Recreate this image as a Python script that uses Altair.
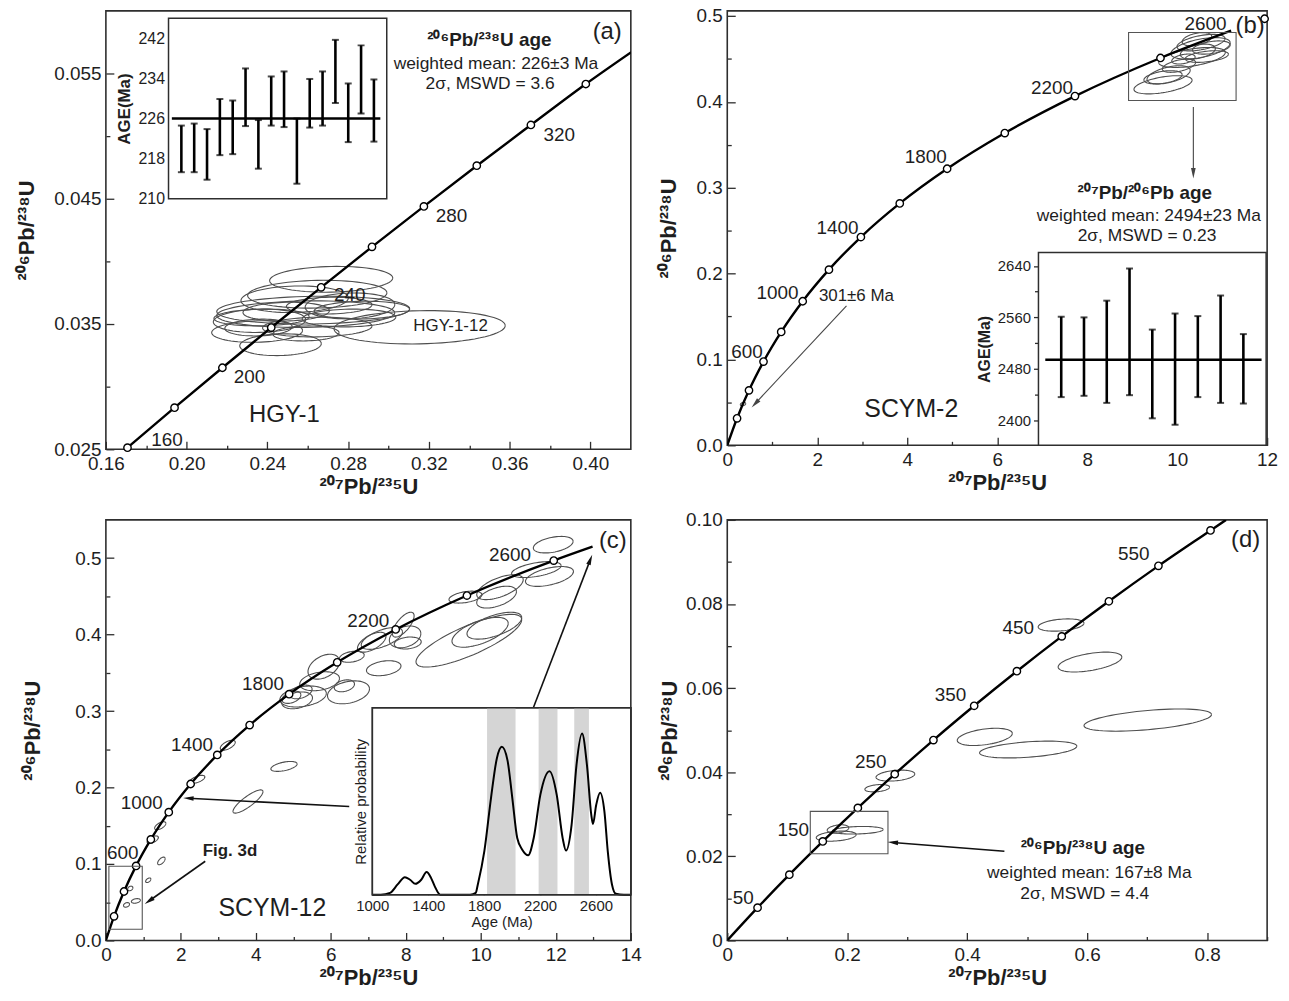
import math
import altair as alt
import pandas as pd

FONT = "Liberation Sans"
INK = "#1e1e1e"
ELL = "#4e4e4e"
FRAME = "#2e2e2e"

# ======================= DATA =======================
# ---- panel (a) HGY-1 ----
A_XDOM = [0.16, 0.42]
A_YDOM = [0.025, 0.060]
a_mx = [0.1707, 0.1940, 0.2177, 0.2419, 0.2666, 0.2918, 0.3175, 0.3437, 0.3705, 0.3977]
a_my = [0.02513, 0.02832, 0.03151, 0.03472, 0.03793, 0.04116, 0.04439, 0.04764, 0.05089, 0.05416]
a_curve_x = a_mx + [0.4202]
a_curve_y = a_my + [0.0567]
a_lab = ["160", "200", "240", "280", "320"]
a_lab_x = [0.1903, 0.2311, 0.2808, 0.3312, 0.3846]
a_lab_y = [0.02574, 0.03077, 0.03730, 0.04360, 0.05010]
a_ex = [0.2716, 0.2647, 0.2627, 0.3154, 0.2465, 0.2349, 0.2590, 0.2535, 0.2706,
        0.2868, 0.2804, 0.2493, 0.2371, 0.2647, 0.2356, 0.2591, 0.2361, 0.2809]
a_ey = [0.03857, 0.03738, 0.03611, 0.03474, 0.03335, 0.03440, 0.03579, 0.03698, 0.03647,
        0.03611, 0.03548, 0.03599, 0.03552, 0.03476, 0.03472, 0.03425, 0.03526, 0.03645]
a_esx = [0.0305, 0.0345, 0.0478, 0.0424, 0.0202, 0.0225, 0.0441, 0.0266, 0.0212,
         0.0236, 0.0232, 0.0214, 0.0236, 0.0271, 0.0167, 0.0164, 0.0229, 0.0222]
a_esy = [0.00103, 0.00111, 0.00111, 0.00133, 0.00087, 0.00086, 0.00106, 0.00106, 0.00067,
         0.00071, 0.00071, 0.00075, 0.00067, 0.00079, 0.00067, 0.00060, 0.00093, 0.00103]
a_erho = [0.1] * 18
# inset (a): 206Pb/238U spot ages
A_IN_X = [0, 17]
A_IN_Y = [210, 246]
a_spot = list(range(1, 17))
a_hi = [224.6, 225.0, 223.9, 229.9, 229.6, 236.0, 225.7, 234.4, 235.4, 226.0, 233.9, 235.4, 241.7, 233.0, 240.6, 233.8]
a_lo = [215.3, 215.3, 213.8, 218.7, 218.9, 224.5, 216.0, 224.6, 224.3, 213.0, 224.2, 224.6, 229.1, 221.3, 227.0, 221.4]
a_mean = 226
a_mean_span = [0.26, 16.5]
a_txt = ["(a)", "²⁰⁶Pb/²³⁸U age", "weighted mean: 226±3 Ma", "2σ, MSWD = 3.6", "HGY-1", "HGY-1-12"]
a_txt_x = [0.4083, 0.3499, 0.3532, 0.3503, 0.2484, 0.3307]
a_txt_y = [0.05828, 0.05767, 0.05577, 0.05418, 0.02772, 0.03487]

# ---- panel (b) SCYM-2 ----
B_XDOM = [0, 12]
B_YDOM = [0, 0.506]
b_mx = [0.2177, 0.4828, 0.8056, 1.199, 1.677, 2.260, 2.970, 3.834, 4.887, 6.169, 7.729, 9.629, 11.944]
b_my = [0.0315, 0.0640, 0.0975, 0.1321, 0.1678, 0.2046, 0.2426, 0.2817, 0.3221, 0.3637, 0.4067, 0.4511, 0.4968]
b_curve_x = [0] + b_mx[:12] + [11.20]
b_curve_y = [0] + b_my[:12] + [0.4829]
b_lab = ["600", "1000", "1400", "1800", "2200", "2600"]
b_lab_x = [0.44, 1.116, 2.45, 4.41, 7.22, 10.63]
b_lab_y = [0.1084, 0.1779, 0.2531, 0.336, 0.416, 0.491]
b_ex = [9.686, 9.81, 10.04, 10.33, 10.52, 10.53, 10.46, 10.66, 10.76, 10.14, 10.44, 9.686, 0.35]
b_ey = [0.4199, 0.4315, 0.4421, 0.4517, 0.4624, 0.469, 0.4586, 0.4528, 0.4633, 0.4499, 0.4730, 0.4286, 0.048]
b_esx = [0.646, 0.48, 0.37, 0.74, 0.66, 0.535, 0.39, 0.48, 0.42, 0.26, 0.33, 0.425, 0.06]
b_esy = [0.0106, 0.0106, 0.0077, 0.0116, 0.0125, 0.0096, 0.0087, 0.0068, 0.0077, 0.0058, 0.0077, 0.0077, 0.002]
b_erho = [0.5, 0.5, 0.5, 0.5, 0.5, 0.5, 0.4, 0.4, 0.4, 0.4, 0.4, 0.4, 0.3]
b_box = [8.92, 11.31, 0.4016, 0.4807]
b_arrow_from = [(2.65, 0.1624), (10.36, 0.394)]
b_arrow_to = [(0.62, 0.0486), (10.36, 0.3168)]
b_arrow_ang = [223, 180]
b_txt = ["(b)", "SCYM-2", "301±6 Ma", "²⁰⁷Pb/²⁰⁶Pb age", "weighted mean: 2494±23 Ma", "2σ, MSWD = 0.23"]
b_txt_x = [11.62, 4.09, 2.87, 9.28, 9.37, 9.33]
b_txt_y = [0.488, 0.0428, 0.1733, 0.2936, 0.2666, 0.2434]
# inset (b): 207Pb/206Pb spot ages
B_IN_X = [0, 10]
B_IN_Y = [2361, 2661]
b_spot = list(range(1, 10))
b_hi = [2561, 2560, 2586, 2636, 2541, 2566, 2562, 2594, 2534]
b_lo = [2436, 2438, 2427, 2439, 2403, 2393, 2436, 2427, 2426]
b_mean = 2494
b_mean_span = [0.3, 9.8]

# ---- panel (c) SCYM-12 ----
C_XDOM = [0, 14]
C_YDOM = [0, 0.55]
c_mx = b_mx
c_my = b_my
c_curve_x = [0] + c_mx + [12.98]
c_curve_y = [0] + c_my + [0.515]
c_lab = ["600", "1000", "1400", "1800", "2200", "2600"]
c_lab_x = [0.45, 0.955, 2.30, 4.19, 7.00, 10.78]
c_lab_y = [0.1144, 0.1795, 0.2553, 0.3355, 0.4178, 0.5045]
c_ex = [11.93, 11.48, 11.83, 10.51, 10.42, 9.59, 9.68, 9.98, 10.36, 7.93, 7.98, 8.05, 7.09, 6.56, 7.41,
        5.81, 5.70, 6.47, 5.26, 5.10, 6.36, 4.75, 3.79, 3.25, 2.44, 1.45, 1.25, 1.48, 1.13, 0.80, 0.55,
        0.65, 7.36, 4.95, 5.20]
c_ey = [0.5176, 0.485, 0.476, 0.462, 0.449, 0.449, 0.392, 0.403, 0.4116, 0.413, 0.397, 0.389, 0.390,
        0.371, 0.356, 0.358, 0.339, 0.3245, 0.319, 0.314, 0.333, 0.2276, 0.1817, 0.2553, 0.2107, 0.150,
        0.1317, 0.104, 0.0787, 0.0517, 0.0465, 0.068, 0.395, 0.318, 0.325]
c_esx = [0.53, 0.66, 0.64, 0.62, 0.53, 0.44, 1.41, 0.75, 0.73, 0.29, 0.42, 0.36, 0.38, 0.33, 0.46,
         0.42, 0.53, 0.56, 0.62, 0.41, 0.27, 0.35, 0.40, 0.20, 0.20, 0.15, 0.15, 0.10, 0.07, 0.12, 0.08,
         0.07, 0.55, 0.25, 0.30]
c_esy = [0.0108, 0.0104, 0.013, 0.0163, 0.0143, 0.0078, 0.0345, 0.0195, 0.0176, 0.0163, 0.0143, 0.0078,
         0.013, 0.0072, 0.0098, 0.0163, 0.0124, 0.015, 0.0137, 0.011, 0.0078, 0.0065, 0.0152, 0.0065,
         0.0052, 0.0052, 0.005, 0.005, 0.003, 0.003, 0.003, 0.003, 0.0143, 0.008, 0.009]
c_erho = [0.4, 0.5, 0.5, 0.6, 0.5, 0.4, 0.8, 0.6, 0.6, 0.7, 0.3, 0.2, 0.6, 0.3, 0.3, 0.4, 0.3, 0.3,
          0.3, 0.3, 0.3, 0.5, 0.85, 0.6, 0.6, 0.6, 0.6, 0.6, 0.5, 0.3, 0.3, 0.3, 0.6, 0.4, 0.4]
c_box = [0.08, 0.97, 0.0147, 0.0971]
c_arrow_from = [(2.65, 0.1036), (6.49, 0.1751), (11.40, 0.3043)]
c_arrow_to = [(1.15, 0.0516), (2.20, 0.186), (12.92, 0.498)]
c_arrow_ang = [235, 273, 21]
c_txt = ["(c)", "SCYM-12"]
c_txt_x = [13.52, 4.44]
c_txt_y = [0.5218, 0.0429]
c_fig_txt = ["Fig. 3d"]
c_fig_x = [3.31]
c_fig_y = [0.1166]
# inset (c): age probability
C_IN_X = [1000, 2850]
C_IN_Y = [0, 1]
kde_age = [1000, 1060, 1127, 1181, 1233, 1270, 1308, 1350, 1388, 1420, 1446, 1486, 1550, 1700, 1740,
           1755, 1802, 1849, 1891, 1927, 1967, 2002, 2037, 2073, 2115, 2155, 2202, 2268, 2320, 2362,
           2386, 2426, 2461, 2501, 2536, 2567, 2579, 2602, 2630, 2661, 2685, 2715, 2743, 2800, 2850]
kde_p = [0, 0, 0.01, 0.055, 0.094, 0.08, 0.058, 0.08, 0.121, 0.09, 0.046, 0.0, 0, 0, 0.01,
         0.055, 0.234, 0.516, 0.729, 0.791, 0.72, 0.516, 0.303, 0.241, 0.211, 0.303, 0.533, 0.661, 0.533,
         0.303, 0.236, 0.374, 0.693, 0.862, 0.693, 0.427, 0.378, 0.48, 0.546, 0.445, 0.232, 0.055, 0.005,
         0, 0]
band_from = [1821, 2190, 2445]
band_to = [2025, 2325, 2550]

# ---- panel (d) ----
D_XDOM = [0, 0.9]
D_YDOM = [0, 0.10]
d_mx = [0.0505, 0.1035, 0.1592, 0.2177, 0.2792, 0.3437, 0.4116, 0.4828, 0.5576, 0.6362, 0.7188, 0.8056]
d_my = [0.00779, 0.01563, 0.02354, 0.03151, 0.03954, 0.04764, 0.05580, 0.06402, 0.07230, 0.08065,
        0.08907, 0.09750]
d_curve_x = [0] + d_mx + [0.8314]
d_curve_y = [0] + d_my + [0.1]
d_lab = ["50", "150", "250", "350", "450", "550"]
d_lab_x = [0.0268, 0.110, 0.2394, 0.372, 0.485, 0.6777]
d_lab_y = [0.0102, 0.0263, 0.0424, 0.0583, 0.0743, 0.0918]
d_ex = [0.5565, 0.6047, 0.701, 0.4293, 0.5017, 0.2803, 0.25, 0.1846, 0.2175, 0.1816]
d_ey = [0.0750, 0.0662, 0.0524, 0.0484, 0.0454, 0.0392, 0.0362, 0.0265, 0.0262, 0.0248]
d_esx = [0.0382, 0.0531, 0.1063, 0.0459, 0.0811, 0.0323, 0.0206, 0.018, 0.0425, 0.0333]
d_esy = [0.00146, 0.00236, 0.00264, 0.00205, 0.0020, 0.0013, 0.00087, 0.001, 0.0009, 0.0012]
d_erho = [0.3, 0.5, 0.5, 0.4, 0.4, 0.3, 0.3, 0.3, 0.2, 0.3]
d_box = [0.1384, 0.2679, 0.0206, 0.0307]
d_arrow_from = [(0.462, 0.0212)]
d_arrow_to = [(0.276, 0.0233)]
d_arrow_ang = [274]
d_txt = ["(d)", "²⁰⁶Pb/²³⁸U age", "weighted mean: 167±8 Ma", "2σ, MSWD = 4.4"]
d_txt_x = [0.864, 0.5927, 0.6037, 0.596]
d_txt_y = [0.0951, 0.0220, 0.0161, 0.0110]

# ======================= LAYOUT =======================
W1, W2 = 528, 543
H_A, H_B, H_C, H_D = 441, 437, 423, 423
A_IN_XR, A_IN_YR = [63, 282.5], [189, 7.5]
B_IN_XR, B_IN_YR = [313, 542], [437, 243]
C_IN_XR, C_IN_YR = [268, 528], [377, 189]


# ======================= HELPERS =======================
def scale(dom, rng=None):
    if rng is None:
        return alt.Scale(domain=list(dom), nice=False, zero=False)
    return alt.Scale(domain=list(dom), nice=False, zero=False, range=list(rng))


def chart(df, xdom, ydom, xaxis=None, yaxis=None, xr=None, yr=None, xf="x", yf="y"):
    return alt.Chart(df).encode(
        x=alt.X(xf, type="quantitative", scale=scale(xdom, xr), axis=xaxis),
        y=alt.Y(yf, type="quantitative", scale=scale(ydom, yr), axis=yaxis),
    )


def ellipse_frame(cx, cy, sx, sy, rho, n=72):
    rows = []
    for k in range(len(cx)):
        r = rho[k]
        q = math.sqrt(1 - r * r)
        for j in range(n + 1):
            t = 2 * math.pi * j / n
            rows.append({"id": k, "o": j,
                         "x": cx[k] + sx[k] * math.cos(t),
                         "y": cy[k] + sy[k] * (r * math.cos(t) + q * math.sin(t))})
    return pd.DataFrame(rows)


def label_axis(orient, values, expr, title, tpad, size=19, tsize=22, lpad=5):
    return alt.Axis(orient=orient, values=values, labelExpr=expr, ticks=False, tickSize=0,
                    domain=False, grid=False, labelFont=FONT, labelFontSize=size, labelColor=INK,
                    labelPadding=lpad, labelFlush=False, labelOverlap=False,
                    title=title, titleFont=FONT, titleFontSize=tsize, titleFontWeight="bold",
                    titleColor=INK, titlePadding=tpad)


def tick_axis(orient, values, size, offset):
    return alt.Axis(orient=orient, values=values, labels=False, domain=False, grid=False,
                    ticks=True, tickSize=size, tickColor=FRAME, tickWidth=1.3, offset=offset, title=None)


def text_layer(texts, xs, ys, xdom, ydom, size, bold=False, xr=None, yr=None):
    df = pd.DataFrame({"t": texts, "x": xs, "y": ys})
    return chart(df, xdom, ydom, xr=xr, yr=yr).mark_text(
        font=FONT, fontSize=size, fontWeight="bold" if bold else "normal", color=INK,
        align="center", baseline="middle").encode(text="t:N")


def main_layers(xdom, ydom, curve_x, curve_y, mk_x, mk_y, ell, lab, lab_x, lab_y,
                xmaj, xmin, ymaj, ymin, xexpr, yexpr, ytpad):
    xl = label_axis("bottom", xmaj, xexpr, "²⁰⁷Pb/²³⁵U", 3)
    yl = label_axis("left", ymaj, yexpr, "²⁰⁶Pb/²³⁸U", ytpad)
    ellipses = chart(ell, xdom, ydom, tick_axis("bottom", xmaj, 8, -8), tick_axis("left", ymaj, 8, -8)).mark_line(
        color=ELL, strokeWidth=1.1, clip=True).encode(detail="id:N", order="o:Q")
    curve = chart(pd.DataFrame({"x": curve_x, "y": curve_y}), xdom, ydom, xl, yl).mark_line(
        color="black", strokeWidth=2.4, clip=True, interpolate="monotone")
    markers = chart(pd.DataFrame({"x": mk_x, "y": mk_y}), xdom, ydom,
                    tick_axis("bottom", xmin, 4, -4), tick_axis("left", ymin, 4, -4)).mark_point(
        shape="circle", filled=True, fill="white", stroke="black", strokeWidth=1.4, size=55, opacity=1)
    labels = text_layer(lab, lab_x, lab_y, xdom, ydom, 19)
    return [ellipses, curve, markers, labels]


def box_layer(b, xdom, ydom, color="#555555"):
    df = pd.DataFrame({"x": [b[0]], "x2": [b[1]], "y": [b[2]], "y2": [b[3]]})
    return chart(df, xdom, ydom).mark_rect(fill="white", fillOpacity=0, stroke=color, strokeWidth=1.1).encode(
        x2="x2:Q", y2="y2:Q")


def arrow_layers(starts, ends, angles, xdom, ydom, color, width):
    rows = []
    for k, (s, e) in enumerate(zip(starts, ends)):
        rows.append({"id": k, "o": 0, "x": s[0], "y": s[1]})
        rows.append({"id": k, "o": 1, "x": e[0], "y": e[1]})
    seg = chart(pd.DataFrame(rows), xdom, ydom).mark_line(color=color, strokeWidth=width).encode(
        detail="id:N", order="o:Q")
    heads = pd.DataFrame({"x": [e[0] for e in ends], "y": [e[1] for e in ends], "ang": angles})
    head = chart(heads, xdom, ydom).mark_point(
        shape="M0,-1L0.45,1L-0.45,1Z", filled=True, color=color, size=110, opacity=1).encode(
        angle=alt.Angle("ang:Q", scale=None))
    return [seg, head]


def inset_frame(xdom, ydom, xr, yr, yaxis=None, xaxis=None, fill_op=1):
    df = pd.DataFrame({"x": [xdom[0]], "x2": [xdom[1]], "y": [ydom[0]], "y2": [ydom[1]]})
    return chart(df, xdom, ydom, xaxis, yaxis, xr, yr).mark_rect(
        fill="white", fillOpacity=fill_op, stroke=FRAME, strokeWidth=1.5).encode(x2="x2:Q", y2="y2:Q")


def errbar_layers(idx, lo, hi, mean, span, xdom, ydom, xr, yr, yaxis):
    bars = chart(pd.DataFrame({"x": idx, "lo": lo, "hi": hi}), xdom, ydom, None, yaxis, xr, yr, yf="lo").mark_rule(
        color="black", strokeWidth=2.6).encode(y2="hi:Q")
    caps = chart(pd.DataFrame({"x": idx + idx, "v": lo + hi}), xdom, ydom, xr=xr, yr=yr, yf="v").mark_tick(
        orient="horizontal", color="black", size=7, thickness=2)
    mline = chart(pd.DataFrame({"x": [span[0]], "x2": [span[1]], "y": [mean]}), xdom, ydom, xr=xr, yr=yr).mark_rule(
        color="black", strokeWidth=2.6).encode(x2="x2:Q")
    return [bars, caps, mline]


# ======================= PANEL (a) =======================
la = main_layers(A_XDOM, A_YDOM, a_curve_x, a_curve_y, a_mx, a_my,
                 ellipse_frame(a_ex, a_ey, a_esx, a_esy, a_erho), a_lab, a_lab_x, a_lab_y,
                 [0.16, 0.20, 0.24, 0.28, 0.32, 0.36, 0.40], [0.18, 0.22, 0.26, 0.30, 0.34, 0.38],
                 [0.025, 0.035, 0.045, 0.055], [0.030, 0.040, 0.050],
                 "format(datum.value, '.2f')", "format(datum.value, '.3f')", 15)
la.append(text_layer(a_txt[:1], a_txt_x[:1], a_txt_y[:1], A_XDOM, A_YDOM, 24))
la.append(text_layer(a_txt[1:2], a_txt_x[1:2], a_txt_y[1:2], A_XDOM, A_YDOM, 19, bold=True))
la.append(text_layer(a_txt[2:4], a_txt_x[2:4], a_txt_y[2:4], A_XDOM, A_YDOM, 17.5))
la.append(text_layer(a_txt[4:5], a_txt_x[4:5], a_txt_y[4:5], A_XDOM, A_YDOM, 24))
la.append(text_layer(a_txt[5:6], a_txt_x[5:6], a_txt_y[5:6], A_XDOM, A_YDOM, 17))
a_in_lab = alt.Axis(orient="left", offset=-A_IN_XR[0], values=[210, 218, 226, 234, 242], format="d",
                    ticks=False, tickSize=0,
                    domain=False, grid=False, labelFont=FONT, labelFontSize=16, labelColor=INK, labelPadding=4,
                    title="AGE(Ma)", titleFont=FONT, titleFontSize=17, titleFontWeight="bold", titleColor=INK,
                    titlePadding=5)
a_in_tick = tick_axis("left", [214, 218, 222, 226, 230, 234, 238, 242], 5, -(A_IN_XR[0] + 5))
la.append(inset_frame(A_IN_X, A_IN_Y, A_IN_XR, A_IN_YR, yaxis=a_in_lab))
la += errbar_layers(a_spot, a_lo, a_hi, a_mean, a_mean_span, A_IN_X, A_IN_Y, A_IN_XR, A_IN_YR, a_in_tick)
pa = alt.layer(*la).resolve_scale(x="independent", y="independent").properties(width=W1, height=H_A)

# ======================= PANEL (b) =======================
lb = main_layers(B_XDOM, B_YDOM, b_curve_x, b_curve_y, b_mx, b_my,
                 ellipse_frame(b_ex, b_ey, b_esx, b_esy, b_erho), b_lab, b_lab_x, b_lab_y,
                 [0, 2, 4, 6, 8, 10, 12], [1, 3, 5, 7, 9, 11],
                 [0, 0.1, 0.2, 0.3, 0.4, 0.5], [0.05, 0.15, 0.25, 0.35, 0.45],
                 "format(datum.value, 'd')", "format(datum.value, '.1f')", 16)
lb.append(box_layer(b_box, B_XDOM, B_YDOM))
lb += arrow_layers(b_arrow_from, b_arrow_to, b_arrow_ang, B_XDOM, B_YDOM, "#444444", 1.1)
lb.append(text_layer(b_txt[:1], b_txt_x[:1], b_txt_y[:1], B_XDOM, B_YDOM, 24))
lb.append(text_layer(b_txt[1:2], b_txt_x[1:2], b_txt_y[1:2], B_XDOM, B_YDOM, 25))
lb.append(text_layer(b_txt[2:3], b_txt_x[2:3], b_txt_y[2:3], B_XDOM, B_YDOM, 17))
lb.append(text_layer(b_txt[3:4], b_txt_x[3:4], b_txt_y[3:4], B_XDOM, B_YDOM, 19, bold=True))
lb.append(text_layer(b_txt[4:6], b_txt_x[4:6], b_txt_y[4:6], B_XDOM, B_YDOM, 17.5))
b_in_lab = alt.Axis(orient="left", offset=-B_IN_XR[0], values=[2400, 2480, 2560, 2640], format="d",
                    ticks=True, tickSize=5,
                    tickColor=FRAME, tickWidth=1.3, domain=False, grid=False, labelFont=FONT, labelFontSize=15,
                    labelColor=INK, labelPadding=3, title="AGE(Ma)", titleFont=FONT, titleFontSize=16,
                    titleFontWeight="bold", titleColor=INK, titlePadding=5)
b_in_tick = tick_axis("left", [2440, 2520, 2600], 4, -B_IN_XR[0])
lb.append(inset_frame(B_IN_X, B_IN_Y, B_IN_XR, B_IN_YR, yaxis=b_in_lab))
lb += errbar_layers(b_spot, b_lo, b_hi, b_mean, b_mean_span, B_IN_X, B_IN_Y, B_IN_XR, B_IN_YR, b_in_tick)
pb = alt.layer(*lb).resolve_scale(x="independent", y="independent").properties(width=W2, height=H_B)

# ======================= PANEL (c) =======================
lc = main_layers(C_XDOM, C_YDOM, c_curve_x, c_curve_y, c_mx, c_my,
                 ellipse_frame(c_ex, c_ey, c_esx, c_esy, c_erho), c_lab, c_lab_x, c_lab_y,
                 [0, 2, 4, 6, 8, 10, 12, 14], [1, 3, 5, 7, 9, 11, 13],
                 [0, 0.1, 0.2, 0.3, 0.4, 0.5], [0.05, 0.15, 0.25, 0.35, 0.45],
                 "format(datum.value, 'd')", "format(datum.value, '.1f')", 30)
lc.append(box_layer(c_box, C_XDOM, C_YDOM))
lc += arrow_layers(c_arrow_from, c_arrow_to, c_arrow_ang, C_XDOM, C_YDOM, "#111111", 1.6)
lc.append(text_layer(c_txt[:1], c_txt_x[:1], c_txt_y[:1], C_XDOM, C_YDOM, 24))
lc.append(text_layer(c_txt[1:2], c_txt_x[1:2], c_txt_y[1:2], C_XDOM, C_YDOM, 25))
lc.append(text_layer(c_fig_txt, c_fig_x, c_fig_y, C_XDOM, C_YDOM, 17, bold=True))
c_in_ylab = alt.Axis(orient="left", offset=-C_IN_XR[0], labels=False, ticks=False, domain=False, grid=False,
                     title="Relative probability", titleFont=FONT, titleFontSize=15, titleFontWeight="normal",
                     titleColor=INK, titlePadding=4)
c_in_xlab = alt.Axis(orient="bottom", offset=-(H_C - C_IN_YR[0]), values=[1000, 1400, 1800, 2200, 2600],
                     format="d", ticks=False, tickSize=0, domain=False, grid=False, labelFont=FONT,
                     labelFontSize=15, labelColor=INK, labelPadding=4, labelFlush=False, title="Age (Ma)",
                     titleFont=FONT, titleFontSize=15, titleFontWeight="normal", titleColor=INK, titlePadding=1)
c_in_xtick = tick_axis("bottom", [1000, 1400, 1800, 2200, 2600], 5, -(H_C - C_IN_YR[0]) - 5)
lc.append(inset_frame(C_IN_X, C_IN_Y, C_IN_XR, C_IN_YR, yaxis=c_in_ylab))
bands = pd.DataFrame({"x": band_from, "x2": band_to, "y": [C_IN_Y[0]] * 3, "y2": [C_IN_Y[1]] * 3})
lc.append(chart(bands, C_IN_X, C_IN_Y, c_in_xtick, None, C_IN_XR, C_IN_YR).mark_rect(color="#d5d5d5").encode(
    x2="x2:Q", y2="y2:Q"))
lc.append(chart(pd.DataFrame({"x": kde_age, "y": kde_p}), C_IN_X, C_IN_Y, c_in_xlab, None, C_IN_XR, C_IN_YR)
          .mark_line(color="black", strokeWidth=2, interpolate="monotone"))
lc.append(inset_frame(C_IN_X, C_IN_Y, C_IN_XR, C_IN_YR, fill_op=0))
pc = alt.layer(*lc).resolve_scale(x="independent", y="independent").properties(width=W1, height=H_C)

# ======================= PANEL (d) =======================
ld = main_layers(D_XDOM, D_YDOM, d_curve_x, d_curve_y, d_mx, d_my,
                 ellipse_frame(d_ex, d_ey, d_esx, d_esy, d_erho), d_lab, d_lab_x, d_lab_y,
                 [0, 0.2, 0.4, 0.6, 0.8], [0.1, 0.3, 0.5, 0.7, 0.9],
                 [0, 0.02, 0.04, 0.06, 0.08, 0.10], [0.01, 0.03, 0.05, 0.07, 0.09],
                 "datum.value == 0 ? '0' : format(datum.value, '.1f')",
                 "datum.value == 0 ? '0' : format(datum.value, '.2f')", 4)
ld.append(box_layer(d_box, D_XDOM, D_YDOM))
ld += arrow_layers(d_arrow_from, d_arrow_to, d_arrow_ang, D_XDOM, D_YDOM, "#111111", 1.6)
ld.append(text_layer(d_txt[:1], d_txt_x[:1], d_txt_y[:1], D_XDOM, D_YDOM, 24))
ld.append(text_layer(d_txt[1:2], d_txt_x[1:2], d_txt_y[1:2], D_XDOM, D_YDOM, 19, bold=True))
ld.append(text_layer(d_txt[2:4], d_txt_x[2:4], d_txt_y[2:4], D_XDOM, D_YDOM, 17.5))
pdd = alt.layer(*ld).resolve_scale(x="independent", y="independent").properties(width=W2, height=H_D)

# ======================= FIGURE =======================
fig = alt.concat(pa, pb, pc, pdd, columns=2, spacing={"row": 71, "column": 97}, bounds="flush").properties(
    padding={"left": 14.5, "top": 3, "right": 10, "bottom": 10},
    background="white",
).configure_view(stroke=FRAME, strokeWidth=1.6)

fig.save("out.html", embed_options={"renderer": "svg", "actions": False})
